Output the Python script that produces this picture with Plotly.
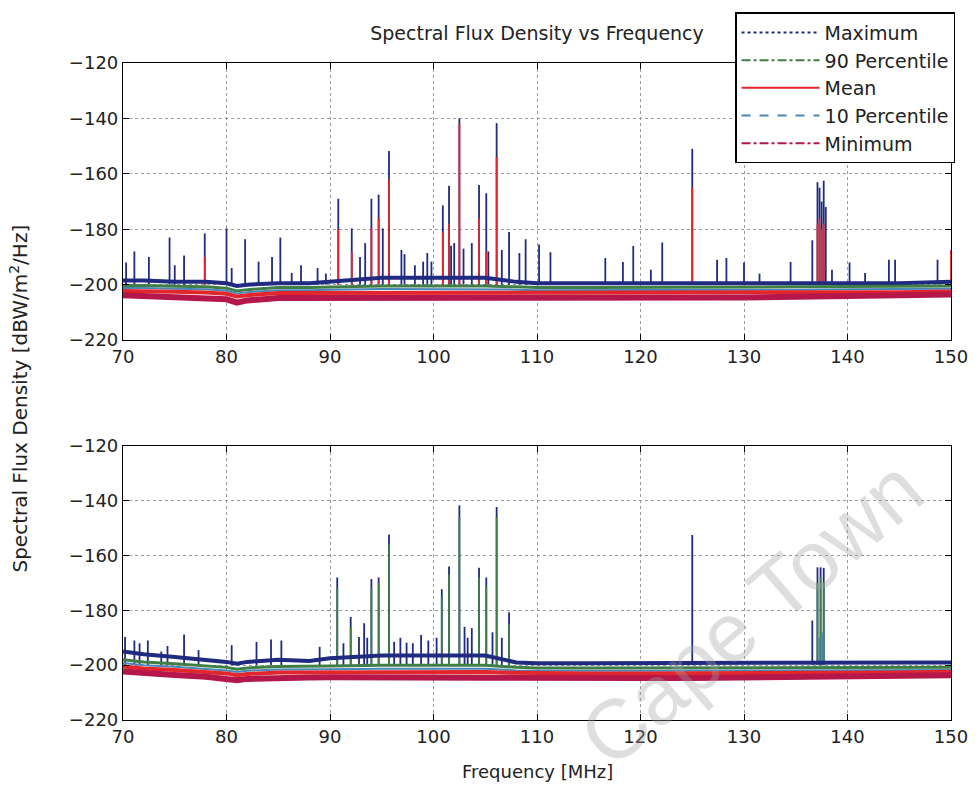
import plotly.graph_objects as go
from plotly.subplots import make_subplots

# ---------------------------------------------------------------------------
# Noise-floor breakpoints (MHz), shared by both panels
# ---------------------------------------------------------------------------
floor_mhz = [70, 72, 75, 78, 80, 81, 82, 85, 88, 90, 95, 100, 105, 108,
             110, 115, 120, 125, 130, 135, 140, 145, 150]

# Upper panel: statistics of the spectral flux density floor (dBW/m^2/Hz)
top_max = [-198.5, -198.5, -199.0, -199.0, -199.5, -200.5, -200.0, -199.5, -199.5, -199.0, -197.5, -197.5,
           -197.5, -199.0, -199.5, -199.5, -199.5, -199.5, -199.5, -199.5, -199.5, -199.5, -199.0]
top_p90 = [-200.3, -200.3, -200.6, -200.8, -201.3, -202.3, -201.8, -201.0, -201.0, -200.8, -200.5, -200.5,
           -200.5, -200.8, -201.0, -201.0, -201.0, -201.0, -200.8, -200.8, -200.7, -200.7, -200.5]
top_p10 = [-201.2, -201.2, -201.5, -201.7, -202.2, -203.2, -202.7, -202.0, -202.0, -201.8, -201.6, -201.6,
           -201.6, -201.8, -202.0, -202.0, -202.0, -202.0, -201.8, -201.8, -201.7, -201.7, -201.5]
top_mean = [-202.3, -202.3, -202.6, -202.8, -203.3, -204.3, -203.8, -203.0, -203.0, -202.8, -202.8, -203.0,
            -203.0, -203.0, -203.0, -203.0, -203.0, -203.0, -202.8, -202.8, -202.7, -202.7, -202.5]
top_min = [-203.8, -204.0, -204.3, -204.6, -205.3, -206.5, -205.7, -204.8, -204.8, -204.6, -204.6, -204.8,
           -205.0, -205.0, -205.0, -205.0, -205.0, -204.8, -204.6, -204.4, -204.2, -204.0, -203.6]

# Lower panel floor statistics
bot_max = [-195.0, -196.0, -197.0, -198.0, -198.8, -199.5, -198.8, -198.0, -198.5, -197.5, -196.5, -196.5,
           -196.5, -199.0, -199.3, -199.3, -199.3, -199.3, -199.3, -199.3, -199.3, -199.3, -199.0]
bot_p90 = [-198.0, -198.8, -199.5, -200.2, -200.8, -201.5, -201.0, -200.5, -200.5, -200.3, -200.0, -200.0,
           -200.0, -200.8, -201.0, -201.0, -201.0, -201.0, -201.0, -201.0, -201.0, -201.0, -200.8]
bot_p10 = [-199.2, -200.0, -200.6, -201.3, -201.9, -202.5, -202.0, -201.6, -201.6, -201.5, -201.3, -201.3,
           -201.3, -201.9, -202.0, -202.0, -202.0, -202.0, -202.0, -202.0, -202.0, -202.0, -201.8]
bot_mean = [-200.5, -201.2, -201.8, -202.5, -203.0, -203.7, -203.2, -202.7, -202.7, -202.6, -202.4, -202.4,
            -202.5, -202.8, -202.9, -203.0, -203.0, -203.0, -202.9, -202.8, -202.8, -202.7, -202.4]
bot_min = [-202.3, -203.0, -203.6, -204.2, -204.8, -205.5, -205.0, -204.5, -204.5, -204.4, -204.3, -204.5,
           -204.6, -204.6, -204.7, -204.7, -204.7, -204.7, -204.6, -204.5, -204.4, -204.2, -203.7]

# Level from which RFI spikes rise
spike_floor_db = -200.0

# ---------------------------------------------------------------------------
# RFI spikes: centre frequency (MHz) and peak level (dBW/m^2/Hz)
# ---------------------------------------------------------------------------
top_max_spike_mhz = [70.3, 71.1, 72.5, 74.5, 75.0, 75.9, 77.9, 80.0, 80.5, 81.8, 83.1, 84.4, 85.2, 86.3,
                     87.2, 88.8, 89.6, 90.8, 92.1, 92.9, 93.4, 94.0, 94.7, 95.1, 95.7, 96.9, 97.2, 98.2,
                     99.0, 99.4, 99.8, 100.9, 101.5, 101.7, 102.0, 102.5, 102.9, 103.7, 104.4, 105.1,
                     105.3, 106.1, 106.6, 107.3, 108.3, 108.9, 110.2, 111.3, 116.6, 118.3, 119.3, 121.0,
                     122.1, 125.0, 127.4, 128.3, 130.0, 131.5, 134.5, 136.6, 137.1, 137.3, 137.5, 137.7,
                     137.9, 138.5, 140.2, 141.7, 144.0, 144.6, 148.7]
top_max_spike_db = [-192.0, -188.0, -190.0, -183.0, -193.0, -189.5, -181.5, -179.7, -194.0, -183.6, -191.7,
                    -190.0, -183.0, -195.8, -193.0, -194.0, -196.0, -169.0, -179.7, -190.0, -185.0, -169.0,
                    -167.5, -179.7, -151.8, -187.5, -189.0, -193.0, -191.7, -188.6, -191.7, -171.4, -164.3,
                    -186.0, -185.0, -140.0, -187.0, -185.0, -164.0, -167.0, -188.0, -141.7, -187.5, -181.0,
                    -188.6, -183.6, -185.5, -188.3, -190.4, -191.8, -186.0, -194.6, -184.8, -151.0, -191.0,
                    -190.4, -192.0, -196.0, -191.8, -184.0, -163.0, -165.0, -170.0, -162.5, -172.0, -194.6,
                    -192.0, -195.8, -191.0, -191.0, -191.0]

top_mean_spike_mhz = [77.9, 90.8, 92.1, 94.0, 94.7, 95.7, 100.9, 101.5, 102.5, 104.4, 105.1, 106.1,
                      125.0, 137.1, 137.3, 137.5, 137.7, 150.0]
top_mean_spike_db = [-190.0, -180.0, -188.0, -179.5, -176.0, -162.0, -181.0, -178.0, -142.0, -176.0,
                     -188.0, -154.0, -165.0, -178.0, -176.0, -180.0, -178.0, -187.5]

bot_max_spike_mhz = [70.2, 71.1, 71.6, 72.4, 73.7, 74.3, 75.9, 77.3, 80.5, 82.9, 84.3, 85.3, 89.0, 90.7,
                     91.3, 92.0, 92.8, 93.3, 93.6, 94.0, 94.7, 95.7, 96.2, 96.8, 97.4, 98.0, 98.8, 99.5,
                     100.3, 100.8, 101.5, 102.5, 103.0, 103.3, 103.7, 104.4, 105.1, 105.7, 106.1, 106.6,
                     107.3, 125.0, 136.6, 137.1, 137.4, 137.7]
bot_max_spike_db = [-189.7, -191.0, -192.0, -191.0, -195.0, -193.0, -188.8, -194.5, -192.7, -191.5, -190.6,
                    -191.0, -193.3, -168.0, -192.0, -182.4, -189.7, -184.7, -190.0, -168.6, -168.0, -152.3,
                    -191.5, -190.0, -191.8, -192.0, -189.0, -191.0, -190.0, -172.3, -164.0, -141.7, -186.0,
                    -190.0, -186.5, -164.5, -168.0, -188.0, -142.3, -190.0, -180.7, -152.5, -183.7, -164.3,
                    -164.3, -164.5]

bot_p90_spike_mhz = [90.7, 92.0, 94.0, 94.7, 95.7, 100.8, 101.5, 102.5, 104.4, 105.1, 106.1, 107.3,
                     137.1, 137.4, 137.7]
bot_p90_spike_db = [-172.0, -186.0, -172.0, -170.0, -156.0, -175.0, -167.0, -146.0, -168.0, -171.0,
                    -146.0, -185.0, -170.0, -168.0, -170.0]

bot_p10_spike_mhz = [137.3, 137.6]
bot_p10_spike_db = [-190.0, -188.0]

series_names = ["Maximum", "90 Percentile", "Mean", "10 Percentile", "Minimum"]
series_colors = {
    "Maximum": "#1f2a80",
    "90 Percentile": "#3f7f45",
    "Mean": "#e3262b",
    "10 Percentile": "#4a86b8",
    "Minimum": "#b5174a",
}
legend_dash = {
    "Maximum": "dot",
    "90 Percentile": "dashdot",
    "Mean": "solid",
    "10 Percentile": "dash",
    "Minimum": "dashdot",
}
floor_width = {"Maximum": 4, "90 Percentile": 3, "Mean": 4, "10 Percentile": 2, "Minimum": 6}

FONT = "DejaVu Sans, Arial, sans-serif"


def stems(freqs, peaks, floor):
    xs, ys = [], []
    for f, p in zip(freqs, peaks):
        xs += [f, f, None]
        ys += [floor, p, None]
    return xs, ys


fig = make_subplots(rows=2, cols=1)

panels = {
    1: {"Minimum": top_min, "Mean": top_mean, "10 Percentile": top_p10,
        "90 Percentile": top_p90, "Maximum": top_max},
    2: {"Minimum": bot_min, "Mean": bot_mean, "10 Percentile": bot_p10,
        "90 Percentile": bot_p90, "Maximum": bot_max},
}
spikes = {
    1: [("Maximum", top_max_spike_mhz, top_max_spike_db),
        ("Mean", top_mean_spike_mhz, top_mean_spike_db)],
    2: [("Maximum", bot_max_spike_mhz, bot_max_spike_db),
        ("90 Percentile", bot_p90_spike_mhz, bot_p90_spike_db),
        ("10 Percentile", bot_p10_spike_mhz, bot_p10_spike_db)],
}

for row in (1, 2):
    # spikes first, floor bands drawn over their feet
    for name, fx, fy in spikes[row]:
        sx, sy = stems(fx, fy, spike_floor_db)
        fig.add_trace(go.Scatter(x=sx, y=sy, mode="lines", showlegend=False,
                                 line=dict(color=series_colors[name], width=1.8),
                                 hoverinfo="skip"), row=row, col=1)
    for name in ["Maximum", "90 Percentile", "10 Percentile", "Mean", "Minimum"]:
        fig.add_trace(go.Scatter(x=floor_mhz, y=panels[row][name], mode="lines",
                                 showlegend=False,
                                 line=dict(color=series_colors[name], width=floor_width[name]),
                                 name=name), row=row, col=1)

# legend entries
for name in series_names:
    fig.add_trace(go.Scatter(x=[None], y=[None], mode="lines", name=name,
                             line=dict(color=series_colors[name], width=2,
                                       dash=legend_dash[name])), row=1, col=1)

axis_common = dict(
    showline=True, linecolor="black", linewidth=1.2, mirror="ticks",
    ticks="inside", ticklen=6, tickwidth=1.2, tickcolor="black",
    showgrid=True, gridcolor="#9a9a9a", griddash="dot", gridwidth=1,
    zeroline=False, tickfont=dict(family=FONT, size=18, color="#222"),
)

for row in (1, 2):
    fig.update_xaxes(range=[70, 150], tickvals=[70, 80, 90, 100, 110, 120, 130, 140, 150],
                     row=row, col=1, **axis_common)
    fig.update_yaxes(range=[-220, -120], tickvals=[-220, -200, -180, -160, -140, -120],
                     row=row, col=1, **axis_common)

fig.update_layout(
    width=980, height=786,
    margin=dict(l=123, r=20, t=56, b=66),
    paper_bgcolor="white", plot_bgcolor="white",
    xaxis=dict(domain=[0, 1], anchor="y"),
    yaxis=dict(domain=[0.5783, 1.0], anchor="x"),
    xaxis2=dict(domain=[0, 1], anchor="y2"),
    yaxis2=dict(domain=[0.0, 0.4172], anchor="x2"),
    title=dict(text="Spectral Flux Density vs Frequency", x=0.5, xref="paper",
               y=1 - 33 / 786, yref="container", yanchor="middle", xanchor="center",
               font=dict(family=FONT, size=19, color="#222")),
    legend=dict(x=(742 - 123) / 837, y=1.077, xanchor="left", yanchor="top",
                bgcolor="white", bordercolor="black", borderwidth=1.2,
                font=dict(family=FONT, size=19, color="#222"),
                itemwidth=78, tracegroupgap=0),
    showlegend=True,
    annotations=[
        dict(text="Frequency [MHz]", x=0.5, y=(720 - 772) / 664, xref="paper", yref="paper",
             showarrow=False, xanchor="center", yanchor="middle",
             font=dict(family=FONT, size=18, color="#222")),
        dict(text="Spectral Flux Density [dBW/m<sup>2</sup>/Hz]", x=(18 - 123) / 837,
             y=(720 - 395) / 664, xref="paper", yref="paper", textangle=-90,
             showarrow=False, xanchor="center", yanchor="middle",
             font=dict(family=FONT, size=20, color="#222")),
        dict(text="Cape Town", x=(758 - 123) / 837, y=(720 - 612) / 664,
             xref="paper", yref="paper", textangle=-40.6, showarrow=False,
             xanchor="center", yanchor="middle",
             font=dict(family="Liberation Sans, Arial, sans-serif", size=84,
                       color="rgba(160,160,160,0.35)")),
    ],
)

fig.write_html("out.html")
